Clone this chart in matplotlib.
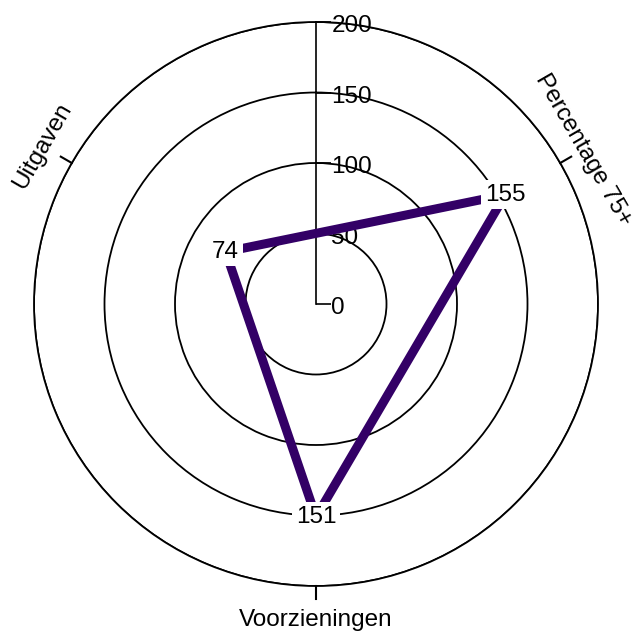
import numpy as np
import matplotlib
matplotlib.use("Agg")
import matplotlib.pyplot as plt

plt.rcParams['font.family'] = ['Liberation Sans', 'DejaVu Sans']

categories = ["Percentage 75+", "Voorzieningen", "Uitgaven"]
angles_deg = [60, 180, 300]
values = [155, 151, 74]
r_ticks = [0, 50, 100, 150, 200]
r_max = 200
line_color = "#330066"

fig = plt.figure(figsize=(6.35, 6.33), dpi=100)
ax = fig.add_axes([34/635, 47/633, 564/635, 564/633], projection='polar')
ax.set_theta_zero_location('N')
ax.set_theta_direction(-1)
ax.set_ylim(0, r_max)

theta = np.deg2rad(angles_deg)

# grid circles
ax.set_yticks(r_ticks[1:])
ax.set_yticklabels([])
ax.yaxis.grid(True, color='black', linewidth=1.3)
ax.xaxis.grid(False)
ax.spines['polar'].set_color('black')
ax.spines['polar'].set_linewidth(1.3)
ax.set_xticks([])
ax.tick_params(axis='y', length=0)

# category tick marks (outward from outer circle)
for t in theta:
    ax.plot([t, t], [r_max, r_max * 1.045], color='black', lw=1.5,
            clip_on=False, zorder=3)

# radial axis
ax.plot([0, 0], [0, r_max], color='black', lw=1.2, zorder=3, clip_on=False)
ax.plot([0]*len(r_ticks), r_ticks, linestyle='none', marker=1, ms=11,
        mew=1.2, color='black', zorder=3, clip_on=False)
for r in r_ticks:
    ax.annotate(str(r), xy=(0, r), xytext=(11, -3), textcoords='offset points',
                ha='left', va='center', fontsize=17.5, zorder=4,
                annotation_clip=False)

# data polygon
th_closed = np.append(theta, theta[0])
v_closed = np.append(values, values[0])
ax.plot(th_closed, v_closed, color=line_color, lw=6.5, zorder=5,
        solid_joinstyle='miter', solid_capstyle='butt')

for t, v in zip(theta, values):
    ax.text(t, v, str(v), ha='center', va='center', fontsize=17.5, zorder=6,
            bbox=dict(boxstyle='square,pad=0.15', fc='white', ec='none'))

# category labels
rots = [-60, 0, 60]
label_r = [219, 224, 224]
for t, lab, rot, lr in zip(theta, categories, rots, label_r):
    ax.text(t, lr, lab, ha='center', va='center', rotation=rot,
            rotation_mode='anchor', fontsize=17.5, clip_on=False)

ax.set_facecolor('white')
fig.savefig('out.png', dpi=100, facecolor='white')
